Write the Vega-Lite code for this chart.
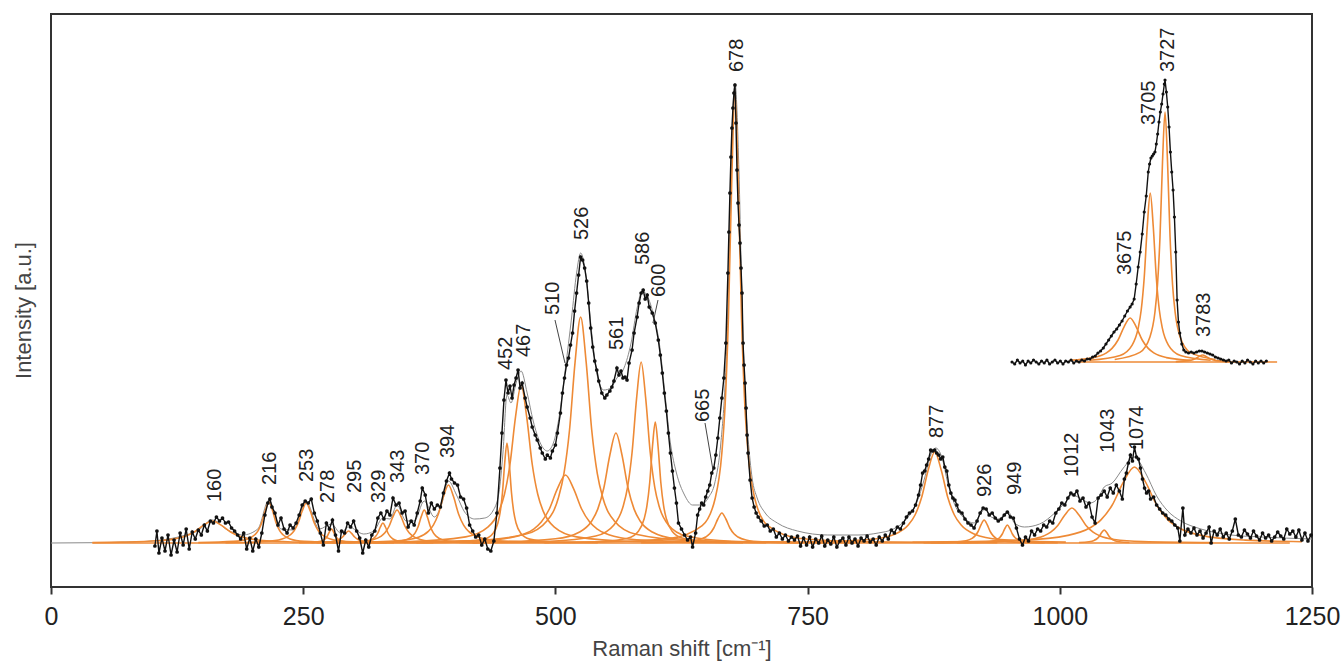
{
"$schema":"https://vega.github.io/schema/vega-lite/v6.json",
"width":1261,"height":573,
"autosize":{"type":"none"},
"padding":{"left":51,"top":14,"right":31,"bottom":75},
"background":"white",
"config":{"view":{"stroke":"#333333","strokeWidth":2},"font":"Liberation Sans"},
"datasets":{
"spec":[{"x":103,"y":-3},{"x":105,"y":12},{"x":107,"y":-10},{"x":110,"y":5},{"x":113,"y":-8},{"x":116,"y":8},{"x":119,"y":-12},{"x":122,"y":3},{"x":125,"y":-9},{"x":128,"y":10},{"x":131,"y":-2},{"x":134,"y":14},{"x":137,"y":-6},{"x":140,"y":11},{"x":143,"y":4},{"x":146,"y":13},{"x":149,"y":8},{"x":152,"y":18},{"x":155,"y":12},{"x":158,"y":22},{"x":161,"y":20},{"x":164,"y":26},{"x":167,"y":22},{"x":170,"y":25},{"x":173,"y":20},{"x":176,"y":21},{"x":179,"y":15},{"x":182,"y":12},{"x":185,"y":8},{"x":188,"y":4},{"x":191,"y":10},{"x":194,"y":-6},{"x":197,"y":5},{"x":200,"y":-8},{"x":203,"y":4},{"x":206,"y":-4},{"x":209,"y":10},{"x":212,"y":28},{"x":215,"y":40},{"x":217,"y":44},{"x":219,"y":36},{"x":222,"y":30},{"x":225,"y":18},{"x":228,"y":25},{"x":231,"y":14},{"x":234,"y":10},{"x":237,"y":18},{"x":240,"y":15},{"x":243,"y":20},{"x":246,"y":28},{"x":249,"y":38},{"x":252,"y":42},{"x":255,"y":40},{"x":258,"y":44},{"x":261,"y":30},{"x":264,"y":22},{"x":267,"y":10},{"x":270,"y":-2},{"x":273,"y":20},{"x":276,"y":14},{"x":279,"y":23},{"x":282,"y":8},{"x":285,"y":-8},{"x":288,"y":12},{"x":291,"y":10},{"x":294,"y":20},{"x":297,"y":16},{"x":300,"y":22},{"x":303,"y":12},{"x":306,"y":5},{"x":309,"y":-10},{"x":312,"y":3},{"x":315,"y":-4},{"x":318,"y":8},{"x":321,"y":12},{"x":324,"y":25},{"x":327,"y":30},{"x":330,"y":24},{"x":333,"y":32},{"x":336,"y":28},{"x":339,"y":45},{"x":342,"y":38},{"x":345,"y":40},{"x":348,"y":30},{"x":351,"y":32},{"x":354,"y":16},{"x":357,"y":22},{"x":360,"y":18},{"x":363,"y":30},{"x":366,"y":42},{"x":368,"y":55},{"x":371,"y":48},{"x":374,"y":30},{"x":377,"y":40},{"x":380,"y":34},{"x":383,"y":38},{"x":386,"y":36},{"x":389,"y":50},{"x":392,"y":62},{"x":395,"y":70},{"x":397,"y":64},{"x":400,"y":60},{"x":403,"y":58},{"x":406,"y":46},{"x":409,"y":44},{"x":412,"y":35},{"x":415,"y":18},{"x":418,"y":12},{"x":421,"y":6},{"x":424,"y":8},{"x":427,"y":-2},{"x":430,"y":4},{"x":433,"y":-6},{"x":436,"y":-8},{"x":439,"y":2},{"x":442,"y":30},{"x":445,"y":75},{"x":447,"y":110},{"x":449,"y":143},{"x":451,"y":163},{"x":453,"y":150},{"x":455,"y":157},{"x":457,"y":145},{"x":459,"y":158},{"x":461,"y":165},{"x":463,"y":173},{"x":465,"y":155},{"x":467,"y":160},{"x":470,"y":145},{"x":472,"y":136},{"x":475,"y":125},{"x":477,"y":116},{"x":480,"y":108},{"x":482,"y":103},{"x":485,"y":95},{"x":487,"y":90},{"x":490,"y":84},{"x":492,"y":88},{"x":495,"y":85},{"x":497,"y":92},{"x":500,"y":98},{"x":502,"y":110},{"x":505,"y":130},{"x":507,"y":150},{"x":509,"y":165},{"x":511,"y":178},{"x":513,"y":185},{"x":515,"y":198},{"x":517,"y":210},{"x":519,"y":232},{"x":521,"y":250},{"x":523,"y":268},{"x":525,"y":286},{"x":527,"y":283},{"x":529,"y":275},{"x":531,"y":262},{"x":533,"y":240},{"x":535,"y":215},{"x":537,"y":196},{"x":539,"y":182},{"x":541,"y":173},{"x":543,"y":162},{"x":546,"y":150},{"x":549,"y":145},{"x":551,"y":148},{"x":554,"y":152},{"x":556,"y":156},{"x":558,"y":162},{"x":561,"y":175},{"x":563,"y":168},{"x":565,"y":172},{"x":567,"y":165},{"x":569,"y":166},{"x":571,"y":163},{"x":573,"y":180},{"x":576,"y":193},{"x":578,"y":210},{"x":581,"y":226},{"x":583,"y":240},{"x":585,"y":250},{"x":587,"y":253},{"x":589,"y":244},{"x":591,"y":248},{"x":593,"y":236},{"x":596,"y":230},{"x":599,"y":220},{"x":602,"y":203},{"x":604,"y":188},{"x":606,"y":170},{"x":608,"y":150},{"x":610,"y":132},{"x":612,"y":110},{"x":614,"y":90},{"x":616,"y":72},{"x":618,"y":55},{"x":620,"y":40},{"x":622,"y":20},{"x":625,"y":14},{"x":628,"y":8},{"x":631,"y":3},{"x":634,"y":6},{"x":636,"y":-4},{"x":639,"y":10},{"x":641,"y":28},{"x":643,"y":34},{"x":645,"y":40},{"x":647,"y":38},{"x":649,"y":46},{"x":651,"y":52},{"x":653,"y":58},{"x":655,"y":70},{"x":657,"y":75},{"x":659,"y":88},{"x":661,"y":105},{"x":663,"y":125},{"x":665,"y":145},{"x":667,"y":165},{"x":669,"y":200},{"x":671,"y":270},{"x":672,"y":311},{"x":673,"y":350},{"x":674,"y":386},{"x":675,"y":415},{"x":676,"y":435},{"x":677,"y":450},{"x":678,"y":458},{"x":679,"y":420},{"x":680,"y":373},{"x":681,"y":340},{"x":682,"y":318},{"x":683,"y":300},{"x":684,"y":275},{"x":685,"y":250},{"x":686,"y":200},{"x":687,"y":178},{"x":688,"y":160},{"x":689,"y":135},{"x":690,"y":108},{"x":691,"y":90},{"x":693,"y":63},{"x":695,"y":45},{"x":697,"y":36},{"x":699,"y":30},{"x":701,"y":26},{"x":704,"y":22},{"x":707,"y":17},{"x":710,"y":18},{"x":713,"y":12},{"x":716,"y":14},{"x":719,"y":6},{"x":722,"y":10},{"x":725,"y":4},{"x":728,"y":8},{"x":731,"y":2},{"x":734,"y":6},{"x":737,"y":3},{"x":740,"y":7},{"x":743,"y":-3},{"x":746,"y":5},{"x":749,"y":-2},{"x":752,"y":6},{"x":755,"y":-4},{"x":758,"y":4},{"x":761,"y":0},{"x":764,"y":7},{"x":767,"y":-3},{"x":770,"y":3},{"x":773,"y":-1},{"x":776,"y":6},{"x":779,"y":-4},{"x":782,"y":2},{"x":785,"y":5},{"x":788,"y":-2},{"x":791,"y":6},{"x":794,"y":0},{"x":797,"y":4},{"x":800,"y":-3},{"x":803,"y":5},{"x":806,"y":2},{"x":809,"y":7},{"x":812,"y":1},{"x":815,"y":4},{"x":818,"y":-2},{"x":821,"y":6},{"x":824,"y":2},{"x":827,"y":8},{"x":830,"y":4},{"x":833,"y":13},{"x":836,"y":10},{"x":839,"y":16},{"x":842,"y":14},{"x":845,"y":20},{"x":848,"y":26},{"x":851,"y":30},{"x":854,"y":32},{"x":857,"y":38},{"x":860,"y":48},{"x":862,"y":58},{"x":864,"y":70},{"x":866,"y":72},{"x":868,"y":78},{"x":870,"y":84},{"x":872,"y":93},{"x":874,"y":92},{"x":876,"y":93},{"x":878,"y":90},{"x":880,"y":88},{"x":882,"y":84},{"x":884,"y":86},{"x":886,"y":76},{"x":888,"y":72},{"x":890,"y":58},{"x":892,"y":50},{"x":894,"y":45},{"x":896,"y":43},{"x":898,"y":38},{"x":900,"y":32},{"x":903,"y":30},{"x":906,"y":24},{"x":909,"y":20},{"x":912,"y":18},{"x":915,"y":15},{"x":918,"y":22},{"x":921,"y":30},{"x":924,"y":35},{"x":927,"y":34},{"x":930,"y":28},{"x":933,"y":30},{"x":936,"y":25},{"x":939,"y":22},{"x":942,"y":24},{"x":945,"y":28},{"x":948,"y":31},{"x":951,"y":26},{"x":954,"y":25},{"x":957,"y":15},{"x":960,"y":4},{"x":963,"y":-2},{"x":966,"y":6},{"x":969,"y":2},{"x":972,"y":12},{"x":975,"y":8},{"x":978,"y":14},{"x":981,"y":12},{"x":984,"y":18},{"x":987,"y":16},{"x":990,"y":22},{"x":993,"y":20},{"x":996,"y":30},{"x":999,"y":34},{"x":1002,"y":40},{"x":1005,"y":38},{"x":1008,"y":45},{"x":1011,"y":50},{"x":1014,"y":48},{"x":1017,"y":52},{"x":1020,"y":42},{"x":1023,"y":45},{"x":1026,"y":36},{"x":1029,"y":40},{"x":1032,"y":26},{"x":1035,"y":20},{"x":1038,"y":45},{"x":1041,"y":48},{"x":1044,"y":52},{"x":1047,"y":46},{"x":1050,"y":55},{"x":1053,"y":50},{"x":1056,"y":58},{"x":1059,"y":52},{"x":1062,"y":44},{"x":1064,"y":64},{"x":1066,"y":70},{"x":1068,"y":80},{"x":1070,"y":88},{"x":1072,"y":82},{"x":1074,"y":96},{"x":1076,"y":86},{"x":1078,"y":84},{"x":1080,"y":75},{"x":1082,"y":64},{"x":1084,"y":55},{"x":1086,"y":50},{"x":1088,"y":52},{"x":1090,"y":44},{"x":1093,"y":46},{"x":1096,"y":38},{"x":1099,"y":34},{"x":1102,"y":30},{"x":1105,"y":28},{"x":1108,"y":24},{"x":1111,"y":22},{"x":1114,"y":18},{"x":1117,"y":15},{"x":1119,"y":2},{"x":1122,"y":35},{"x":1124,"y":8},{"x":1127,"y":14},{"x":1130,"y":10},{"x":1133,"y":15},{"x":1136,"y":8},{"x":1139,"y":12},{"x":1142,"y":5},{"x":1145,"y":10},{"x":1148,"y":16},{"x":1150,"y":0},{"x":1153,"y":12},{"x":1156,"y":8},{"x":1159,"y":14},{"x":1162,"y":6},{"x":1165,"y":10},{"x":1168,"y":4},{"x":1171,"y":12},{"x":1174,"y":24},{"x":1177,"y":8},{"x":1180,"y":6},{"x":1183,"y":13},{"x":1186,"y":9},{"x":1189,"y":5},{"x":1192,"y":12},{"x":1195,"y":7},{"x":1198,"y":3},{"x":1201,"y":10},{"x":1204,"y":5},{"x":1207,"y":8},{"x":1210,"y":2},{"x":1213,"y":6},{"x":1216,"y":11},{"x":1219,"y":7},{"x":1222,"y":4},{"x":1225,"y":14},{"x":1228,"y":9},{"x":1231,"y":12},{"x":1234,"y":6},{"x":1237,"y":13},{"x":1240,"y":3},{"x":1243,"y":10},{"x":1246,"y":2},{"x":1249,"y":8}],
"fit":[{"x":0,"y":0},{"x":41,"y":0.3},{"x":80,"y":1},{"x":110,"y":3},{"x":130,"y":7},{"x":145,"y":12},{"x":160,"y":23},{"x":175,"y":13},{"x":190,"y":8},{"x":205,"y":14},{"x":216,"y":43},{"x":228,"y":14},{"x":240,"y":13},{"x":253,"y":41},{"x":266,"y":14},{"x":278,"y":19},{"x":287,"y":10},{"x":295,"y":16},{"x":310,"y":9},{"x":320,"y":12},{"x":329,"y":25},{"x":336,"y":24},{"x":343,"y":38},{"x":352,"y":22},{"x":360,"y":22},{"x":370,"y":42},{"x":380,"y":26},{"x":387,"y":38},{"x":394,"y":62},{"x":402,"y":48},{"x":410,"y":31},{"x":420,"y":24},{"x":430,"y":25},{"x":438,"y":32},{"x":444,"y":50},{"x":448,"y":90},{"x":452,"y":148},{"x":456,"y":140},{"x":461,"y":160},{"x":466,"y":172},{"x":472,"y":150},{"x":478,"y":122},{"x":485,"y":100},{"x":492,"y":92},{"x":498,"y":100},{"x":504,"y":128},{"x":510,"y":175},{"x":516,"y":225},{"x":521,"y":270},{"x":525,"y":290},{"x":530,"y":270},{"x":536,"y":210},{"x":542,"y":165},{"x":548,"y":153},{"x":555,"y":155},{"x":561,"y":165},{"x":568,"y":175},{"x":575,"y":200},{"x":581,"y":235},{"x":586,"y":252},{"x":592,"y":245},{"x":598,"y":225},{"x":603,"y":200},{"x":608,"y":155},{"x":614,"y":100},{"x":620,"y":70},{"x":628,"y":48},{"x":636,"y":38},{"x":644,"y":38},{"x":652,"y":46},{"x":658,"y":60},{"x":664,"y":100},{"x":668,"y":155},{"x":671,"y":230},{"x":674,"y":370},{"x":678,"y":460},{"x":682,"y":370},{"x":685,"y":240},{"x":688,"y":150},{"x":691,"y":105},{"x":695,"y":65},{"x":700,"y":45},{"x":708,"y":30},{"x":720,"y":20},{"x":740,"y":12},{"x":770,"y":8},{"x":800,"y":8},{"x":820,"y":10},{"x":835,"y":14},{"x":848,"y":24},{"x":858,"y":40},{"x":866,"y":65},{"x":872,"y":88},{"x":877,"y":95},{"x":883,"y":86},{"x":889,"y":60},{"x":896,"y":38},{"x":905,"y":25},{"x":915,"y":20},{"x":922,"y":30},{"x":926,"y":34},{"x":932,"y":26},{"x":940,"y":24},{"x":946,"y":30},{"x":949,"y":31},{"x":955,"y":20},{"x":965,"y":16},{"x":980,"y":19},{"x":995,"y":30},{"x":1005,"y":40},{"x":1012,"y":48},{"x":1020,"y":45},{"x":1030,"y":40},{"x":1038,"y":45},{"x":1044,"y":56},{"x":1052,"y":60},{"x":1063,"y":75},{"x":1074,"y":86},{"x":1085,"y":70},{"x":1096,"y":47},{"x":1107,"y":32},{"x":1120,"y":22},{"x":1140,"y":14},{"x":1170,"y":8},{"x":1200,"y":6},{"x":1250,"y":4}],
"comp":[
{"c":"base","x":41,"y":0},{"c":"base","x":1228,"y":0},
{"c":"160","x":41,"y":0.5},{"c":"160","x":70,"y":0.85},{"c":"160","x":106,"y":2.2},{"c":"160","x":124,"y":4.4},{"c":"160","x":133,"y":6.8},{"c":"160","x":142,"y":11},{"c":"160","x":151,"y":17.6},{"c":"160","x":160,"y":22},{"c":"160","x":169,"y":17.6},{"c":"160","x":178,"y":11},{"c":"160","x":187,"y":6.8},{"c":"160","x":196,"y":4.4},{"c":"160","x":214,"y":2.2},{"c":"160","x":250,"y":0.85},{"c":"160","x":340,"y":0.22},
{"c":"216","x":146,"y":0.4},{"c":"216","x":181,"y":1.6},{"c":"216","x":195,"y":4.1},{"c":"216","x":202,"y":8.2},{"c":"216","x":205.5,"y":12.6},{"c":"216","x":209,"y":20.5},{"c":"216","x":212.5,"y":32.8},{"c":"216","x":216,"y":41},{"c":"216","x":219.5,"y":32.8},{"c":"216","x":223,"y":20.5},{"c":"216","x":226.5,"y":12.6},{"c":"216","x":230,"y":8.2},{"c":"216","x":237,"y":4.1},{"c":"216","x":251,"y":1.6},{"c":"216","x":286,"y":0.4},
{"c":"253","x":173,"y":0.4},{"c":"253","x":213,"y":1.5},{"c":"253","x":229,"y":4},{"c":"253","x":237,"y":8},{"c":"253","x":241,"y":12.3},{"c":"253","x":245,"y":20},{"c":"253","x":249,"y":32},{"c":"253","x":253,"y":40},{"c":"253","x":257,"y":32},{"c":"253","x":261,"y":20},{"c":"253","x":265,"y":12.3},{"c":"253","x":269,"y":8},{"c":"253","x":277,"y":4},{"c":"253","x":293,"y":1.5},{"c":"253","x":333,"y":0.4},
{"c":"278","x":258,"y":0.5},{"c":"278","x":266,"y":1.4},{"c":"278","x":270,"y":2.8},{"c":"278","x":272,"y":4.3},{"c":"278","x":274,"y":7},{"c":"278","x":276,"y":11.2},{"c":"278","x":278,"y":14},{"c":"278","x":280,"y":11.2},{"c":"278","x":282,"y":7},{"c":"278","x":284,"y":4.3},{"c":"278","x":286,"y":2.8},{"c":"278","x":290,"y":1.4},{"c":"278","x":298,"y":0.5},
{"c":"295","x":265,"y":0.46},{"c":"295","x":277,"y":1.2},{"c":"295","x":283,"y":2.4},{"c":"295","x":286,"y":3.7},{"c":"295","x":289,"y":6},{"c":"295","x":292,"y":9.6},{"c":"295","x":295,"y":12},{"c":"295","x":298,"y":9.6},{"c":"295","x":301,"y":6},{"c":"295","x":304,"y":3.7},{"c":"295","x":307,"y":2.4},{"c":"295","x":313,"y":1.2},{"c":"295","x":325,"y":0.46},
{"c":"329","x":279,"y":0.2},{"c":"329","x":304,"y":0.77},{"c":"329","x":314,"y":2},{"c":"329","x":319,"y":4},{"c":"329","x":321.5,"y":6.2},{"c":"329","x":324,"y":10},{"c":"329","x":326.5,"y":16},{"c":"329","x":329,"y":20},{"c":"329","x":331.5,"y":16},{"c":"329","x":334,"y":10},{"c":"329","x":336.5,"y":6.2},{"c":"329","x":339,"y":4},{"c":"329","x":344,"y":2},{"c":"329","x":354,"y":0.77},{"c":"329","x":379,"y":0.2},
{"c":"343","x":263,"y":0.33},{"c":"343","x":303,"y":1.27},{"c":"343","x":319,"y":3.3},{"c":"343","x":327,"y":6.6},{"c":"343","x":331,"y":10.2},{"c":"343","x":335,"y":16.5},{"c":"343","x":339,"y":26.4},{"c":"343","x":343,"y":33},{"c":"343","x":347,"y":26.4},{"c":"343","x":351,"y":16.5},{"c":"343","x":355,"y":10.2},{"c":"343","x":359,"y":6.6},{"c":"343","x":367,"y":3.3},{"c":"343","x":383,"y":1.27},{"c":"343","x":423,"y":0.33},
{"c":"370","x":310,"y":0.33},{"c":"370","x":340,"y":1.27},{"c":"370","x":352,"y":3.3},{"c":"370","x":358,"y":6.6},{"c":"370","x":361,"y":10.2},{"c":"370","x":364,"y":16.5},{"c":"370","x":367,"y":26.4},{"c":"370","x":370,"y":33},{"c":"370","x":373,"y":26.4},{"c":"370","x":376,"y":16.5},{"c":"370","x":379,"y":10.2},{"c":"370","x":382,"y":6.6},{"c":"370","x":388,"y":3.3},{"c":"370","x":400,"y":1.27},{"c":"370","x":430,"y":0.33},
{"c":"394","x":294,"y":0.57},{"c":"394","x":344,"y":2.2},{"c":"394","x":364,"y":5.8},{"c":"394","x":374,"y":11.6},{"c":"394","x":379,"y":17.9},{"c":"394","x":384,"y":29},{"c":"394","x":389,"y":46.4},{"c":"394","x":394,"y":58},{"c":"394","x":399,"y":46.4},{"c":"394","x":404,"y":29},{"c":"394","x":409,"y":17.9},{"c":"394","x":414,"y":11.6},{"c":"394","x":424,"y":5.8},{"c":"394","x":444,"y":2.2},{"c":"394","x":494,"y":0.57},
{"c":"452","x":362,"y":0.25},{"c":"452","x":407,"y":0.99},{"c":"452","x":429.5,"y":3.85},{"c":"452","x":438.5,"y":10},{"c":"452","x":443,"y":20},{"c":"452","x":445.25,"y":30.8},{"c":"452","x":447.5,"y":50},{"c":"452","x":449.75,"y":80},{"c":"452","x":452,"y":100},{"c":"452","x":454.25,"y":80},{"c":"452","x":456.5,"y":50},{"c":"452","x":458.75,"y":30.8},{"c":"452","x":461,"y":20},{"c":"452","x":465.5,"y":10},{"c":"452","x":474.5,"y":3.85},{"c":"452","x":497,"y":0.99},{"c":"452","x":542,"y":0.25},
{"c":"467","x":246,"y":0.39},{"c":"467","x":356,"y":1.56},{"c":"467","x":411,"y":6.1},{"c":"467","x":433,"y":15.8},{"c":"467","x":444,"y":31.6},{"c":"467","x":449.5,"y":48.7},{"c":"467","x":455,"y":79},{"c":"467","x":460.5,"y":126.4},{"c":"467","x":466,"y":158},{"c":"467","x":471.5,"y":126.4},{"c":"467","x":477,"y":79},{"c":"467","x":482.5,"y":48.7},{"c":"467","x":488,"y":31.6},{"c":"467","x":499,"y":15.8},{"c":"467","x":521,"y":6.1},{"c":"467","x":576,"y":1.56},{"c":"467","x":686,"y":0.39},
{"c":"510","x":350,"y":0.67},{"c":"510","x":430,"y":2.6},{"c":"510","x":462,"y":6.8},{"c":"510","x":478,"y":13.6},{"c":"510","x":486,"y":20.9},{"c":"510","x":494,"y":34},{"c":"510","x":502,"y":54.4},{"c":"510","x":510,"y":68},{"c":"510","x":518,"y":54.4},{"c":"510","x":526,"y":34},{"c":"510","x":534,"y":20.9},{"c":"510","x":542,"y":13.6},{"c":"510","x":558,"y":6.8},{"c":"510","x":590,"y":2.6},{"c":"510","x":670,"y":0.67},
{"c":"526","x":305,"y":0.56},{"c":"526","x":415,"y":2.24},{"c":"526","x":470,"y":8.7},{"c":"526","x":492,"y":22.6},{"c":"526","x":503,"y":45.2},{"c":"526","x":508.5,"y":69.6},{"c":"526","x":514,"y":113},{"c":"526","x":519.5,"y":180.8},{"c":"526","x":525,"y":226},{"c":"526","x":530.5,"y":180.8},{"c":"526","x":536,"y":113},{"c":"526","x":541.5,"y":69.6},{"c":"526","x":547,"y":45.2},{"c":"526","x":558,"y":22.6},{"c":"526","x":580,"y":8.7},{"c":"526","x":635,"y":2.24},{"c":"526","x":745,"y":0.56},
{"c":"561","x":320,"y":0.27},{"c":"561","x":440,"y":1.09},{"c":"561","x":500,"y":4.2},{"c":"561","x":524,"y":11},{"c":"561","x":536,"y":22},{"c":"561","x":542,"y":33.9},{"c":"561","x":548,"y":55},{"c":"561","x":554,"y":88},{"c":"561","x":560,"y":110},{"c":"561","x":566,"y":88},{"c":"561","x":572,"y":55},{"c":"561","x":578,"y":33.9},{"c":"561","x":584,"y":22},{"c":"561","x":596,"y":11},{"c":"561","x":620,"y":4.2},{"c":"561","x":680,"y":1.09},{"c":"561","x":800,"y":0.27},
{"c":"586","x":405,"y":0.45},{"c":"586","x":495,"y":1.8},{"c":"586","x":540,"y":7},{"c":"586","x":558,"y":18.1},{"c":"586","x":567,"y":36.2},{"c":"586","x":571.5,"y":55.7},{"c":"586","x":576,"y":90.5},{"c":"586","x":580.5,"y":144.8},{"c":"586","x":585,"y":181},{"c":"586","x":589.5,"y":144.8},{"c":"586","x":594,"y":90.5},{"c":"586","x":598.5,"y":55.7},{"c":"586","x":603,"y":36.2},{"c":"586","x":612,"y":18.1},{"c":"586","x":630,"y":7},{"c":"586","x":675,"y":1.8},{"c":"586","x":765,"y":0.45},
{"c":"600","x":489,"y":0.3},{"c":"600","x":544,"y":1.2},{"c":"600","x":571.5,"y":4.66},{"c":"600","x":582.5,"y":12.1},{"c":"600","x":588,"y":24.2},{"c":"600","x":590.75,"y":37.3},{"c":"600","x":593.5,"y":60.5},{"c":"600","x":596.25,"y":96.8},{"c":"600","x":599,"y":121},{"c":"600","x":601.75,"y":96.8},{"c":"600","x":604.5,"y":60.5},{"c":"600","x":607.25,"y":37.3},{"c":"600","x":610,"y":24.2},{"c":"600","x":615.5,"y":12.1},{"c":"600","x":626.5,"y":4.66},{"c":"600","x":654,"y":1.2},{"c":"600","x":709,"y":0.3},
{"c":"665","x":585,"y":0.3},{"c":"665","x":625,"y":1.16},{"c":"665","x":641,"y":3},{"c":"665","x":649,"y":6},{"c":"665","x":653,"y":9.2},{"c":"665","x":657,"y":15},{"c":"665","x":661,"y":24},{"c":"665","x":665,"y":30},{"c":"665","x":669,"y":24},{"c":"665","x":673,"y":15},{"c":"665","x":677,"y":9.2},{"c":"665","x":681,"y":6},{"c":"665","x":689,"y":3},{"c":"665","x":705,"y":1.16},{"c":"665","x":745,"y":0.3},
{"c":"678","x":418,"y":0.28},{"c":"678","x":548,"y":1.12},{"c":"678","x":613,"y":4.46},{"c":"678","x":645.5,"y":17.3},{"c":"678","x":658.5,"y":45},{"c":"678","x":665,"y":90},{"c":"678","x":668.25,"y":138.5},{"c":"678","x":671.5,"y":225},{"c":"678","x":674.75,"y":360},{"c":"678","x":678,"y":450},{"c":"678","x":681.25,"y":360},{"c":"678","x":684.5,"y":225},{"c":"678","x":687.75,"y":138.5},{"c":"678","x":691,"y":90},{"c":"678","x":697.5,"y":45},{"c":"678","x":710.5,"y":17.3},{"c":"678","x":743,"y":4.46},{"c":"678","x":808,"y":1.12},{"c":"678","x":938,"y":0.28},
{"c":"877","x":746,"y":0.9},{"c":"877","x":811,"y":3.5},{"c":"877","x":837,"y":9.1},{"c":"877","x":850,"y":18.2},{"c":"877","x":856.5,"y":28},{"c":"877","x":863,"y":45.5},{"c":"877","x":869.5,"y":72.8},{"c":"877","x":876,"y":91},{"c":"877","x":882.5,"y":72.8},{"c":"877","x":889,"y":45.5},{"c":"877","x":895.5,"y":28},{"c":"877","x":902,"y":18.2},{"c":"877","x":915,"y":9.1},{"c":"877","x":941,"y":3.5},{"c":"877","x":1006,"y":0.9},
{"c":"926","x":865,"y":0.23},{"c":"926","x":895,"y":0.9},{"c":"926","x":907,"y":2.3},{"c":"926","x":913,"y":4.6},{"c":"926","x":916,"y":7.1},{"c":"926","x":919,"y":11.5},{"c":"926","x":922,"y":18.4},{"c":"926","x":925,"y":23},{"c":"926","x":928,"y":18.4},{"c":"926","x":931,"y":11.5},{"c":"926","x":934,"y":7.1},{"c":"926","x":937,"y":4.6},{"c":"926","x":943,"y":2.3},{"c":"926","x":955,"y":0.9},{"c":"926","x":985,"y":0.23},
{"c":"949","x":898,"y":0.18},{"c":"949","x":923,"y":0.7},{"c":"949","x":933,"y":1.8},{"c":"949","x":938,"y":3.6},{"c":"949","x":940.5,"y":5.5},{"c":"949","x":943,"y":9},{"c":"949","x":945.5,"y":14.4},{"c":"949","x":948,"y":18},{"c":"949","x":950.5,"y":14.4},{"c":"949","x":953,"y":9},{"c":"949","x":955.5,"y":5.5},{"c":"949","x":958,"y":3.6},{"c":"949","x":963,"y":1.8},{"c":"949","x":973,"y":0.7},{"c":"949","x":998,"y":0.18},
{"c":"1012","x":872,"y":0.35},{"c":"1012","x":942,"y":1.35},{"c":"1012","x":970,"y":3.5},{"c":"1012","x":984,"y":7},{"c":"1012","x":991,"y":10.8},{"c":"1012","x":998,"y":17.5},{"c":"1012","x":1005,"y":28},{"c":"1012","x":1012,"y":35},{"c":"1012","x":1019,"y":28},{"c":"1012","x":1026,"y":17.5},{"c":"1012","x":1033,"y":10.8},{"c":"1012","x":1040,"y":7},{"c":"1012","x":1054,"y":3.5},{"c":"1012","x":1082,"y":1.35},{"c":"1012","x":1152,"y":0.35},
{"c":"1043","x":1019,"y":0.5},{"c":"1043","x":1029,"y":1.3},{"c":"1043","x":1034,"y":2.6},{"c":"1043","x":1036.5,"y":4},{"c":"1043","x":1039,"y":6.5},{"c":"1043","x":1041.5,"y":10.4},{"c":"1043","x":1044,"y":13},{"c":"1043","x":1046.5,"y":10.4},{"c":"1043","x":1049,"y":6.5},{"c":"1043","x":1051.5,"y":4},{"c":"1043","x":1054,"y":2.6},{"c":"1043","x":1059,"y":1.3},{"c":"1043","x":1069,"y":0.5},
{"c":"1074","x":854,"y":0.75},{"c":"1074","x":964,"y":2.9},{"c":"1074","x":1008,"y":7.6},{"c":"1074","x":1030,"y":15.2},{"c":"1074","x":1041,"y":23.4},{"c":"1074","x":1052,"y":38},{"c":"1074","x":1063,"y":60.8},{"c":"1074","x":1074,"y":76},{"c":"1074","x":1085,"y":60.8},{"c":"1074","x":1096,"y":38},{"c":"1074","x":1107,"y":23.4},{"c":"1074","x":1118,"y":15.2},{"c":"1074","x":1140,"y":7.6},{"c":"1074","x":1184,"y":2.9},{"c":"1074","x":1240,"y":1.3}
],
"lab":[{"t":"160","x":163,"y":41},{"t":"216","x":217,"y":58},{"t":"253","x":254,"y":61},{"t":"278","x":275,"y":40},{"t":"295","x":301,"y":50},{"t":"329","x":325,"y":40},{"t":"343","x":344,"y":60},{"t":"370","x":369,"y":68},{"t":"394","x":394,"y":85},{"t":"452","x":451,"y":173},{"t":"467","x":469,"y":186},{"t":"510","x":498,"y":228},{"t":"526","x":526,"y":303},{"t":"561","x":561,"y":193},{"t":"586","x":587,"y":278},{"t":"600","x":603,"y":246},{"t":"665","x":646,"y":121},{"t":"678","x":680,"y":471},{"t":"877","x":878,"y":105},{"t":"926","x":926,"y":46},{"t":"949","x":956,"y":48},{"t":"1012","x":1012,"y":66},{"t":"1043","x":1048,"y":90},{"t":"1074","x":1077,"y":93}],
"lead":[{"x":499.6,"y":223,"x2":509.5,"y2":180},{"x":601.7,"y":243,"x2":596.7,"y2":220},{"x":648.3,"y":120,"x2":656.2,"y2":73}],
"ispec":[{"x":3499,"y":0},{"x":3503,"y":-2},{"x":3507,"y":2},{"x":3511,"y":-1},{"x":3515,"y":1},{"x":3519,"y":-3},{"x":3523,"y":1},{"x":3527,"y":-1},{"x":3531,"y":2},{"x":3535,"y":0},{"x":3539,"y":-2},{"x":3543,"y":1},{"x":3547,"y":-1},{"x":3551,"y":2},{"x":3555,"y":-2},{"x":3559,"y":0},{"x":3563,"y":2},{"x":3567,"y":-1},{"x":3571,"y":1},{"x":3575,"y":-2},{"x":3579,"y":1},{"x":3583,"y":0},{"x":3587,"y":2},{"x":3591,"y":-1},{"x":3595,"y":1},{"x":3599,"y":0},{"x":3603,"y":2},{"x":3607,"y":1},{"x":3611,"y":3},{"x":3615,"y":3},{"x":3619,"y":5},{"x":3623,"y":6},{"x":3627,"y":9},{"x":3631,"y":11},{"x":3635,"y":14},{"x":3639,"y":18},{"x":3643,"y":22},{"x":3647,"y":26},{"x":3651,"y":30},{"x":3655,"y":33},{"x":3659,"y":37},{"x":3663,"y":41},{"x":3667,"y":46},{"x":3671,"y":51},{"x":3675,"y":55},{"x":3678,"y":58},{"x":3681,"y":63},{"x":3684,"y":78},{"x":3687,"y":95},{"x":3690,"y":110},{"x":3693,"y":128},{"x":3696,"y":150},{"x":3699,"y":166},{"x":3702,"y":190},{"x":3704,"y":198},{"x":3706,"y":204},{"x":3708,"y":206},{"x":3710,"y":208},{"x":3712,"y":210},{"x":3714,"y":218},{"x":3716,"y":228},{"x":3718,"y":240},{"x":3720,"y":250},{"x":3722,"y":258},{"x":3724,"y":268},{"x":3726,"y":278},{"x":3727,"y":282},{"x":3729,"y":270},{"x":3731,"y":255},{"x":3733,"y":235},{"x":3735,"y":210},{"x":3737,"y":190},{"x":3739,"y":172},{"x":3741,"y":145},{"x":3743,"y":110},{"x":3745,"y":62},{"x":3747,"y":40},{"x":3749,"y":29},{"x":3752,"y":18},{"x":3755,"y":12},{"x":3758,"y":10},{"x":3762,"y":9},{"x":3766,"y":10},{"x":3770,"y":9},{"x":3774,"y":10},{"x":3778,"y":11},{"x":3782,"y":11},{"x":3786,"y":10},{"x":3790,"y":9},{"x":3794,"y":8},{"x":3798,"y":7},{"x":3802,"y":5},{"x":3806,"y":4},{"x":3810,"y":3},{"x":3814,"y":2},{"x":3818,"y":1},{"x":3822,"y":2},{"x":3826,"y":-1},{"x":3830,"y":1},{"x":3834,"y":0},{"x":3838,"y":-2},{"x":3842,"y":1},{"x":3846,"y":-1},{"x":3850,"y":2},{"x":3854,"y":0},{"x":3858,"y":-2},{"x":3862,"y":1},{"x":3866,"y":-1},{"x":3870,"y":1},{"x":3874,"y":-1},{"x":3878,"y":1}],
"icomp":[
{"c":"base","x":3596,"y":0},{"c":"base","x":3894,"y":0},
{"c":"3675","x":3585,"y":1.7},{"c":"3675","x":3621,"y":4.4},{"c":"3675","x":3639,"y":8.8},{"c":"3675","x":3648,"y":13.6},{"c":"3675","x":3657,"y":22},{"c":"3675","x":3666,"y":35.2},{"c":"3675","x":3675,"y":44},{"c":"3675","x":3684,"y":35.2},{"c":"3675","x":3693,"y":22},{"c":"3675","x":3702,"y":13.6},{"c":"3675","x":3711,"y":8.8},{"c":"3675","x":3729,"y":4.4},{"c":"3675","x":3765,"y":1.7},
{"c":"3705","x":3615,"y":1.7},{"c":"3705","x":3660,"y":6.5},{"c":"3705","x":3678,"y":16.9},{"c":"3705","x":3687,"y":33.8},{"c":"3705","x":3691.5,"y":52},{"c":"3705","x":3696,"y":84.5},{"c":"3705","x":3700.5,"y":135},{"c":"3705","x":3705,"y":169},{"c":"3705","x":3709.5,"y":135},{"c":"3705","x":3714,"y":84.5},{"c":"3705","x":3718.5,"y":52},{"c":"3705","x":3723,"y":33.8},{"c":"3705","x":3732,"y":16.9},{"c":"3705","x":3750,"y":6.5},{"c":"3705","x":3795,"y":1.7},
{"c":"3727","x":3652,"y":2.5},{"c":"3727","x":3689.5,"y":9.6},{"c":"3727","x":3704.5,"y":25},{"c":"3727","x":3712,"y":50},{"c":"3727","x":3715.75,"y":77},{"c":"3727","x":3719.5,"y":125},{"c":"3727","x":3723.25,"y":200},{"c":"3727","x":3727,"y":250},{"c":"3727","x":3730.75,"y":200},{"c":"3727","x":3734.5,"y":125},{"c":"3727","x":3738.25,"y":77},{"c":"3727","x":3742,"y":50},{"c":"3727","x":3749.5,"y":25},{"c":"3727","x":3764.5,"y":9.6},{"c":"3727","x":3802,"y":2.5},
{"c":"3783","x":3743,"y":0.4},{"c":"3783","x":3763,"y":1.4},{"c":"3783","x":3773,"y":3.5},{"c":"3783","x":3778,"y":5.6},{"c":"3783","x":3783,"y":7},{"c":"3783","x":3788,"y":5.6},{"c":"3783","x":3793,"y":3.5},{"c":"3783","x":3803,"y":1.4},{"c":"3783","x":3823,"y":0.4}
],
"ilab":[{"t":"3675","x":3667,"y":87},{"t":"3705","x":3703,"y":237},{"t":"3727","x":3731,"y":290},{"t":"3783","x":3785,"y":25}]
},
"layer":[
{
"encoding":{
"x":{"field":"x","type":"quantitative","scale":{"domain":[0,1250],"nice":false,"zero":false},
"axis":{"title":"Raman shift [cm⁻¹]","values":[0,250,500,750,1000,1250],"format":"d","domain":false,"grid":false,"ticks":true,"tickSize":7,"tickWidth":2,"tickColor":"#333333","labelFontSize":25,"labelColor":"#222222","labelPadding":10,"labelFlush":false,"labelOverlap":false,"titleFontSize":22,"titleFontWeight":"normal","titleColor":"#444444","titlePadding":9,"labelFont":"Liberation Sans","titleFont":"Liberation Sans"}},
"y":{"field":"y","type":"quantitative","scale":{"domain":[-44,529],"nice":false,"zero":false},
"axis":{"title":"Intensity [a.u.]","domain":false,"ticks":false,"labels":false,"grid":false,"titleFontSize":22,"titleFontWeight":"normal","titleColor":"#444444","titlePadding":16,"titleY":296,"titleFont":"Liberation Sans"}}
},
"layer":[
{"data":{"name":"fit"},"mark":{"type":"line","color":"#8a8a8a","strokeWidth":1,"interpolate":"monotone"}},
{"data":{"name":"comp"},"mark":{"type":"line","color":"#ee8a36","strokeWidth":1.6,"interpolate":"monotone"},"encoding":{"detail":{"field":"c","type":"nominal"}}},
{"data":{"name":"spec"},"mark":{"type":"line","color":"#111111","strokeWidth":1.4,"point":{"filled":true,"size":14,"color":"#111111"}}},
{"data":{"name":"lead"},"mark":{"type":"rule","color":"#444444","strokeWidth":1},"encoding":{"x2":{"field":"x2"},"y2":{"field":"y2"}}},
{"data":{"name":"lab"},"mark":{"type":"text","angle":270,"align":"left","baseline":"middle","fontSize":20,"font":"Liberation Sans","color":"#222222"},"encoding":{"text":{"field":"t","type":"nominal"}}}
]
},
{
"encoding":{
"x":{"field":"x","type":"quantitative","scale":{"domain":[2067,3946],"nice":false,"zero":false},"axis":null},
"y":{"field":"y","type":"quantitative","scale":{"domain":[-225,348],"nice":false,"zero":false},"axis":null}
},
"layer":[
{"data":{"name":"icomp"},"mark":{"type":"line","color":"#ee8a36","strokeWidth":1.6,"interpolate":"monotone"},"encoding":{"detail":{"field":"c","type":"nominal"}}},
{"data":{"name":"ispec"},"mark":{"type":"line","color":"#111111","strokeWidth":1.4,"point":{"filled":true,"size":10,"color":"#111111"}}},
{"data":{"name":"ilab"},"mark":{"type":"text","angle":270,"align":"left","baseline":"middle","fontSize":20,"font":"Liberation Sans","color":"#222222"},"encoding":{"text":{"field":"t","type":"nominal"}}}
]
}
],
"resolve":{"scale":{"x":"independent","y":"independent"}}
}
